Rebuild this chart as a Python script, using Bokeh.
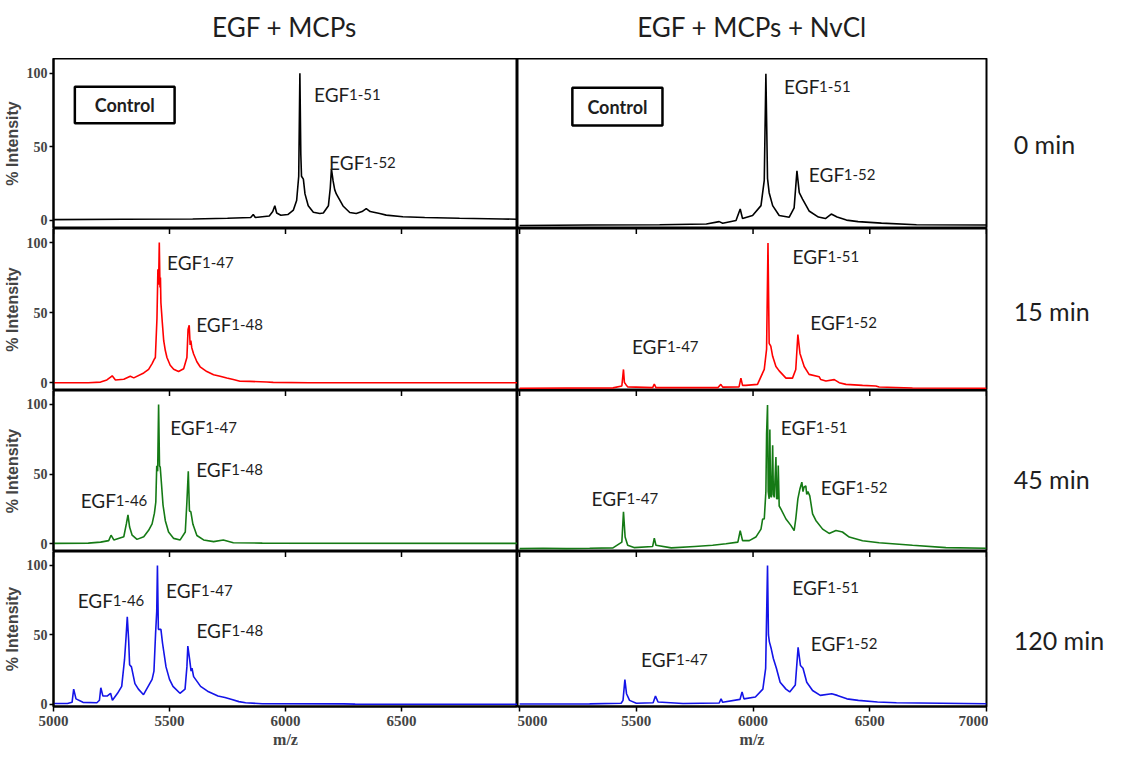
import math
from bokeh.plotting import figure
from bokeh.layouts import column, row
from bokeh.models import FixedTicker, Range1d, ColumnDataSource
from bokeh.core.properties import value
from bokeh.embed import file_html
from bokeh.resources import INLINE

# ---------------- data ----------------
col_titles = ["EGF + MCPs", "EGF + MCPs + NvCl"]
time_labels = ["0 min", "15 min", "45 min", "120 min"]
row_colors = ["#000000", "#ff0000", "#157a15", "#1414e8"]
x_ticks_left = [5000, 5500, 6000, 6500]
x_ticks_right = [5000, 5500, 6000, 6500, 7000]
y_ticks = [0, 50, 100]

# Row 1 (0 min), left: EGF + MCPs
a0_mz = [5000, 5300, 5600, 5750, 5850, 5861, 5870, 5930, 5945, 5954, 5962, 5980, 6010, 6034, 6048, 6057,
         6062, 6066, 6069, 6077, 6084, 6098, 6120, 6148, 6163, 6185, 6193, 6198, 6205, 6212, 6219, 6248,
         6277, 6305, 6330, 6348, 6365, 6406, 6434, 6506, 6600, 6750, 6935, 7000]
a0_int = [0.5, 0.8, 1.0, 1.5, 2.0, 4.0, 2.0, 3.0, 6.0, 10.0, 5.0, 3.5, 4.0, 7.0, 13.5, 30.0,
          100.0, 45.0, 30.0, 28.0, 18.0, 10.0, 5.6, 4.7, 5.0, 10.0, 22.0, 35.0, 27.0, 20.9, 18.0, 9.8,
          5.4, 4.7, 6.0, 8.0, 6.0, 4.7, 3.6, 2.5, 2.0, 1.5, 1.0, 0.8]
# Row 1 (0 min), right: EGF + MCPs + NvCl
b0_mz = [5000, 5300, 5600, 5800, 5855, 5870, 5927, 5945, 5955, 5998, 6034, 6048, 6055, 6062, 6069, 6084,
         6112, 6155, 6176, 6188, 6198, 6212, 6240, 6280, 6310, 6335, 6360, 6400, 6450, 6550, 6700, 7000]
b0_int = [0.5, 0.8, 1.0, 1.5, 3.0, 2.0, 3.8, 11.3, 5.0, 7.0, 13.5, 30.0, 100.0, 31.3, 22.0, 13.5,
          7.0, 5.9, 12.0, 36.3, 22.0, 17.8, 10.0, 6.0, 5.0, 8.0, 6.0, 4.0, 3.0, 2.0, 1.0, 0.8]
# Row 2 (15 min), left
a1_mz = [5000, 5150, 5203, 5230, 5246, 5253, 5267, 5303, 5331, 5346, 5389, 5410, 5425, 5435, 5439, 5446,
         5450, 5453, 5456, 5459, 5461, 5463, 5466, 5469, 5475, 5482, 5489, 5503, 5518, 5539, 5561, 5575,
         5580, 5585, 5589, 5592, 5596, 5604, 5618, 5632, 5661, 5690, 5718, 5747, 5775, 5804, 5847, 5919,
         5947, 6100, 7000]
a1_int = [0.0, 0.0, 0.5, 2.0, 4.0, 5.0, 2.0, 2.5, 4.6, 3.5, 7.0, 9.6, 13.7, 17.0, 18.0, 46.0,
          81.0, 70.0, 100.0, 68.0, 75.0, 57.0, 50.0, 43.0, 30.0, 23.0, 18.0, 12.5, 9.6, 8.0, 10.0, 18.0,
          38.0, 41.0, 27.0, 30.0, 25.0, 20.5, 15.0, 11.4, 8.0, 5.7, 4.6, 3.4, 2.3, 1.1, 1.0, 0.6,
          0.3, 0.0, 0.0]
# Row 2 (15 min), right
b1_mz = [5000, 5400, 5438, 5445, 5449, 5455, 5463, 5570, 5577, 5584, 5850, 5862, 5870, 5940, 5948, 5955,
         5969, 6019, 6048, 6058, 6064, 6069, 6076, 6084, 6098, 6112, 6141, 6169, 6183, 6192, 6201, 6209,
         6219, 6240, 6283, 6290, 6312, 6348, 6369, 6398, 6469, 6526, 6540, 6683, 7000]
b1_int = [0.0, 0.3, 1.6, 13.0, 4.0, 2.7, 1.0, 0.5, 3.0, 0.5, 0.5, 2.7, 0.8, 1.0, 7.0, 2.0,
          2.0, 2.7, 13.0, 27.0, 100.0, 31.0, 29.0, 22.0, 15.0, 12.0, 7.0, 7.0, 13.0, 37.0, 24.0, 20.0,
          15.0, 9.6, 8.0, 6.0, 5.0, 6.0, 3.9, 2.7, 2.0, 1.6, 0.9, 0.2, 0.0]
# Row 3 (45 min), left
a2_mz = [5000, 5150, 5203, 5238, 5248, 5260, 5303, 5314, 5321, 5328, 5339, 5360, 5389, 5410, 5425, 5435,
         5441, 5445, 5449, 5453, 5457, 5460, 5465, 5472, 5482, 5496, 5518, 5546, 5568, 5575, 5581, 5586,
         5592, 5601, 5618, 5647, 5690, 5732, 5775, 5900, 7000]
a2_int = [0.3, 0.5, 1.2, 2.3, 6.2, 2.8, 5.1, 14.3, 20.7, 12.0, 6.2, 3.2, 5.1, 9.7, 14.3, 22.0,
          30.0, 56.0, 52.0, 100.0, 56.0, 55.0, 44.0, 28.0, 16.6, 8.5, 3.9, 2.8, 8.5, 30.0, 52.0, 23.5,
          23.0, 14.0, 6.0, 2.8, 1.6, 2.8, 0.8, 0.5, 0.3]
# Row 3 (45 min), right
b2_mz = [5000, 5100, 5200, 5300, 5400, 5438, 5445, 5452, 5463, 5490, 5570, 5577, 5584, 5650, 5750, 5827,
         5884, 5935, 5945, 5955, 5984, 6012, 6034, 6041, 6048, 6055, 6058, 6062, 6065, 6069, 6072, 6075,
         6079, 6084, 6087, 6091, 6098, 6101, 6105, 6108, 6112, 6119, 6141, 6162, 6176, 6183, 6192, 6201,
         6209, 6214, 6218, 6226, 6230, 6235, 6243, 6255, 6269, 6298, 6326, 6355, 6383, 6412, 6469, 6540,
         6683, 6826, 7000]
b2_int = [0.5, 0.8, 0.5, 0.7, 1.0, 5.0, 26.0, 8.5, 2.8, 1.2, 2.0, 7.8, 2.8, 1.0, 2.0, 2.8,
          3.9, 5.0, 13.0, 6.0, 6.0, 8.5, 14.0, 21.0, 21.0, 40.0, 80.0, 100.0, 40.0, 35.0, 83.0, 37.0,
          36.0, 72.0, 38.0, 36.0, 64.0, 35.0, 35.0, 58.0, 30.0, 28.0, 21.0, 16.6, 13.0, 21.0, 35.0, 42.0,
          46.5, 40.0, 43.0, 44.0, 38.0, 40.0, 37.0, 24.6, 20.0, 14.0, 11.0, 13.0, 12.0, 8.5, 6.0, 4.6,
          2.8, 1.2, 0.8]
# Row 4 (120 min), left
a3_mz = [5000, 5060, 5080, 5087, 5097, 5127, 5187, 5198, 5204, 5213, 5231, 5246, 5254, 5276, 5294, 5306,
         5313, 5318, 5324, 5328, 5336, 5351, 5366, 5388, 5425, 5433, 5440, 5445, 5448, 5452, 5463, 5470,
         5485, 5500, 5515, 5545, 5567, 5575, 5579, 5587, 5593, 5597, 5604, 5634, 5664, 5709, 5739, 5769,
         5799, 5828, 5900, 6250, 6300, 7000]
a3_int = [0.7, 0.7, 1.5, 11.0, 4.0, 1.5, 1.2, 3.0, 12.0, 6.0, 6.0, 8.0, 3.0, 8.0, 13.0, 32.0,
          49.0, 63.0, 46.0, 28.6, 27.0, 15.0, 11.0, 7.0, 18.0, 24.0, 51.0, 67.0, 100.0, 54.0, 54.0, 44.0,
          27.0, 18.0, 13.0, 8.0, 11.0, 27.0, 42.0, 32.0, 24.0, 26.0, 20.0, 13.0, 9.5, 6.0, 5.0, 3.6,
          2.0, 1.2, 0.5, 0.4, 0.2, 0.1]
# Row 4 (120 min), right
b3_mz = [5000, 5300, 5435, 5443, 5451, 5458, 5471, 5500, 5572, 5582, 5593, 5700, 5855, 5863, 5870, 5944,
         5953, 5961, 6010, 6042, 6054, 6062, 6066, 6070, 6078, 6087, 6100, 6116, 6141, 6157, 6181, 6193,
         6203, 6214, 6230, 6255, 6288, 6337, 6361, 6402, 6451, 6533, 6614, 7000]
b3_int = [0.3, 0.4, 0.8, 2.9, 17.8, 7.7, 2.9, 0.8, 1.2, 6.0, 1.7, 0.7, 1.0, 4.0, 1.5, 3.6,
          9.0, 4.0, 5.3, 11.0, 26.0, 100.0, 50.0, 45.0, 40.0, 33.0, 26.0, 16.0, 11.0, 9.0, 14.0, 41.0,
          28.0, 26.0, 16.0, 10.0, 6.5, 7.7, 6.5, 4.0, 2.9, 1.7, 1.2, 0.5]

# peak labels: subscript, m/z, % intensity (baseline of the label)
ann = {
    (0, 0): [("1-51", 6123, 85.6), ("1-52", 6188, 39.6)],
    (0, 1): [("1-51", 6133, 91.8), ("1-52", 6239, 34.0)],
    (1, 0): [("1-47", 5489, 85.6), ("1-48", 5615, 41.6)],
    (1, 1): [("1-47", 5481, 29.0), ("1-51", 6169, 90.7), ("1-52", 6245, 45.5)],
    (2, 0): [("1-46", 5117, 30.8), ("1-47", 5503, 83.4), ("1-48", 5615, 53.0)],
    (2, 1): [("1-47", 5308, 35.5), ("1-51", 6119, 84.6), ("1-52", 6290, 43.0)],
    (3, 0): [("1-46", 5104, 75.0), ("1-47", 5485, 81.7), ("1-48", 5616, 53.0)],
    (3, 1): [("1-47", 5520, 32.5), ("1-51", 6168, 84.0), ("1-52", 6247, 44.0)],
}
spectra = {
    (0, 0): (a0_mz, a0_int), (0, 1): (b0_mz, b0_int),
    (1, 0): (a1_mz, a1_int), (1, 1): (b1_mz, b1_int),
    (2, 0): (a2_mz, a2_int), (2, 1): (b2_mz, b2_int),
    (3, 0): (a3_mz, a3_int), (3, 1): (b3_mz, b3_int),
}
# "Control" boxes in the 0 min row: (left m/z, right m/z, bottom %, top %)
control_boxes = {0: (5092, 5522, 66.0, 90.8), 1: (5226, 5612, 66.0, 90.8)}
time_label_y = [54, 53, 48.5, 46]

# ---------------- layout ----------------
TITLE_H = 58
FRAME_H = [170, 162, 161, 160]
BOT_B = 39
LEFT_B = 51
LEFT_FRAME = 466
RIGHT_FRAME = 469
LABEL_W = 120
Y_TOP = 110
# left column keeps its "0" tick label clear of the panel below
Y_BOTTOM = {0: [-5.5, -5.5, -5.5, -1.5], 1: [-1.5, -1.5, -1.5, -1.5]}

TXT = "#1e1e1e"
NARROW = "Liberation Sans Narrow"


def blank(width, height, xr, yr):
    p = figure(width=width, height=height, x_range=Range1d(*xr), y_range=Range1d(*yr),
               output_backend="svg", toolbar_location=None,
               min_border_left=0, min_border_right=0, min_border_top=0, min_border_bottom=0)
    p.axis.visible = False
    p.grid.visible = False
    p.outline_line_color = None
    return p


def make_title(c):
    if c == 0:
        w, cx = LEFT_B + LEFT_FRAME, LEFT_B + LEFT_FRAME / 2
    else:
        w, cx = RIGHT_FRAME + 2, RIGHT_FRAME / 2
    p = blank(w, TITLE_H, (0, w), (0, TITLE_H))
    src = ColumnDataSource(dict(x=[cx], y=[TITLE_H - 26], t=[col_titles[c]]))
    p.text(x="x", y="y", text="t", source=src, text_font=value("Lato"),
           text_font_size="26px", text_align="center", text_baseline="middle", text_color=TXT)
    return p


def make_panel(r, c):
    bot_b = BOT_B if r == 3 else 0
    if c == 0:
        width, lb, rb, xr = LEFT_B + LEFT_FRAME, LEFT_B, 0, (5000, 7000)
    else:
        width, lb, rb, xr = RIGHT_FRAME + 2, 0, 2, (4991, 7000)
    p = figure(width=width, height=FRAME_H[r] + bot_b,
               x_range=Range1d(*xr), y_range=Range1d(Y_BOTTOM[c][r], Y_TOP),
               output_backend="svg", toolbar_location=None,
               min_border_left=lb, min_border_right=rb,
               min_border_top=0, min_border_bottom=bot_b)
    p.grid.visible = False
    p.outline_line_color = "black"
    p.outline_line_width = 2
    p.background_fill_color = "white"
    p.border_fill_color = "white"

    ticks = x_ticks_left if c == 0 else x_ticks_right
    xa = p.xaxis[0]
    if r == 3:
        xa.ticker = FixedTicker(ticks=ticks)
        xa.major_tick_out = 5
        xa.major_tick_in = 0
        xa.minor_tick_line_color = None
        xa.major_tick_line_width = 1.5
        xa.axis_line_width = 2
        xa.major_label_text_font = NARROW
        xa.major_label_text_font_style = "bold"
        xa.major_label_text_font_size = "15px"
        xa.major_label_standoff = 4
        xa.axis_label = "m/z"
        xa.axis_label_text_font = NARROW
        xa.axis_label_text_font_style = "bold"
        xa.axis_label_text_font_size = "16px"
        xa.axis_label_standoff = 2
    else:
        xa.visible = False
    if r > 0:
        # ticks of the panel above, hanging down from the shared border
        p.scatter(x=ticks, y=[Y_TOP] * len(ticks), marker="dash", angle=math.pi / 2,
                  size=11, line_color="black", line_width=1.5)

    ya = p.yaxis[0]
    if c == 0:
        ya.ticker = FixedTicker(ticks=y_ticks)
        ya.major_tick_out = 4
        ya.major_tick_in = 0
        ya.minor_tick_line_color = None
        ya.major_tick_line_width = 1.5
        ya.axis_line_width = 2
        ya.major_label_text_font = NARROW
        ya.major_label_text_font_style = "bold"
        ya.major_label_text_font_size = "14px"
        ya.major_label_standoff = 2
        ya.axis_label = "% Intensity"
        ya.axis_label_text_font = "Liberation Sans"
        ya.axis_label_text_font_style = "bold"
        ya.axis_label_text_font_size = "16px"
        ya.axis_label_standoff = 3
    else:
        ya.visible = False

    if r == 0:
        bl, br, bb, bt = control_boxes[c]
        bsrc = ColumnDataSource(dict(l=[bl], r=[br], b=[bb], t=[bt],
                                     x=[(bl + br) / 2], y=[(bb + bt) / 2], s=["Control"]))
        p.quad(left="l", right="r", bottom="b", top="t", source=bsrc,
               fill_color="white", line_color="black", line_width=2.5)
        p.text(x="x", y="y", text="s", source=bsrc, text_font=value("Lato"),
               text_font_style="bold", text_font_size="18px", text_align="center",
               text_baseline="middle", text_color=TXT)

    mz, inten = spectra[(r, c)]
    p.line(x=mz, y=inten, line_color=row_colors[r], line_width=1.6)

    labs = ann[(r, c)]
    src = ColumnDataSource(dict(x=[a[1] for a in labs], y=[a[2] for a in labs],
                                main=["EGF"] * len(labs), sub=[a[0] for a in labs]))
    p.text(x="x", y="y", text="main", source=src, text_font=value("Lato"),
           text_font_size="19px", text_align="left", text_baseline="alphabetic", text_color=TXT)
    p.text(x="x", y="y", text="sub", source=src, text_font=value("Lato"),
           text_font_size="15px", text_align="left", text_baseline="alphabetic",
           text_color=TXT, x_offset=35)
    return p


def make_label(r):
    bot_b = BOT_B if r == 3 else 0
    p = figure(width=LABEL_W, height=FRAME_H[r] + bot_b,
               x_range=Range1d(0, 1), y_range=Range1d(-1.5, Y_TOP),
               output_backend="svg", toolbar_location=None,
               min_border_left=0, min_border_right=0,
               min_border_top=0, min_border_bottom=bot_b)
    p.axis.visible = False
    p.grid.visible = False
    p.outline_line_color = None
    src = ColumnDataSource(dict(x=[0.21], y=[time_label_y[r]], t=[time_labels[r]]))
    p.text(x="x", y="y", text="t", source=src, text_font=value("Lato"),
           text_font_size="25px", text_align="left", text_baseline="middle", text_color=TXT)
    return p


rows = [row(make_title(0), make_title(1), blank(LABEL_W, TITLE_H, (0, 1), (0, 1)))]
for r in range(4):
    rows.append(row(make_panel(r, 0), make_panel(r, 1), make_label(r)))
layout = column(*rows)

open("out.html", "w").write(file_html(layout, INLINE))
